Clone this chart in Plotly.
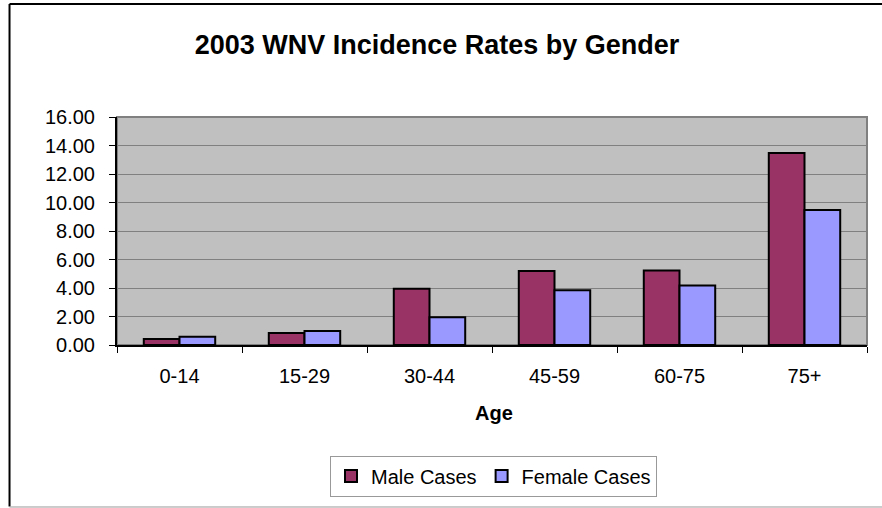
import plotly.graph_objects as go

age_groups = ["0-14", "15-29", "30-44", "45-59", "60-75", "75+"]
male_rates = [0.42, 0.84, 3.94, 5.20, 5.22, 13.47]
female_rates = [0.58, 0.98, 1.94, 3.84, 4.17, 9.47]

FONT = "Liberation Sans, Arial, sans-serif"
MALE_COLOR = "#993366"
FEMALE_COLOR = "#9999FF"

fig = go.Figure()
fig.add_trace(go.Bar(x=age_groups, y=male_rates, name="Male Cases",
                     marker=dict(color=MALE_COLOR, line=dict(color="black", width=2))))
fig.add_trace(go.Bar(x=age_groups, y=female_rates, name="Female Cases",
                     marker=dict(color=FEMALE_COLOR, line=dict(color="black", width=2))))

# plot area border (gray) and outer chart frame
shapes = [
    dict(type="rect", xref="paper", yref="paper", x0=0, x1=1, y0=0, y1=1,
         line=dict(color="#808080", width=2), layer="below"),
    dict(type="line", xref="paper", yref="paper", x0=-0.1433, x1=-0.1433, y0=-0.708, y1=1.4956,
         line=dict(color="black", width=2)),
    dict(type="line", xref="paper", yref="paper", x0=-0.1433, x1=1.04, y0=1.4956, y1=1.4956,
         line=dict(color="black", width=2)),
    dict(type="line", xref="paper", yref="paper", x0=-0.1433, x1=1.04, y0=-0.7105, y1=-0.7105,
         line=dict(color="#999999", width=1)),
]

fig.update_layout(
    width=882, height=508,
    margin=dict(l=117, r=15, t=117, b=163),
    paper_bgcolor="white",
    plot_bgcolor="#C0C0C0",
    font=dict(family=FONT, color="black", size=20),
    barmode="group",
    bargap=0.4286,
    bargroupgap=0,
    title=dict(text="<b>2003 WNV Incidence Rates by Gender</b>", font=dict(size=27),
               x=0.4955, xanchor="center", y=0.9114, yanchor="middle"),
    shapes=shapes,
    annotations=[dict(text="<b>Age</b>", xref="paper", yref="paper", x=0.5027, y=-0.298,
                      showarrow=False, font=dict(size=20), xanchor="center", yanchor="middle")],
    legend=dict(orientation="h", x=0.502, xanchor="center", y=-0.5746, yanchor="middle",
                bordercolor="#999999", borderwidth=1, bgcolor="white",
                font=dict(size=20), itemwidth=30),
)

fig.update_xaxes(showline=True, linecolor="black", linewidth=2, ticks="outside",
                 tickson="boundaries", ticklen=6, tickcolor="black", showgrid=False,
                 ticklabelstandoff=12)
fig.update_yaxes(range=[0, 16], dtick=2, tickformat=".2f", showline=True, linecolor="black",
                 linewidth=2, ticks="outside", ticklen=6, tickcolor="black",
                 gridcolor="#808080", gridwidth=1, zeroline=False, ticklabelstandoff=10)

# drop the default body margin so the figure sits at the window's top-left corner
fig.write_html("out.html", config={"displayModeBar": False},
               post_script="document.body.style.margin='0px';")
